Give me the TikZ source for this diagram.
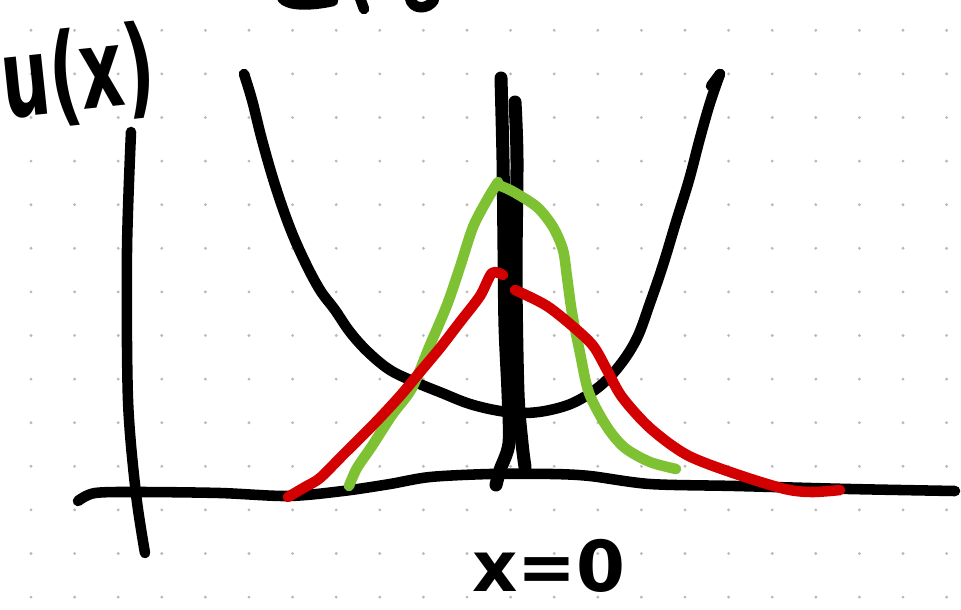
\documentclass[tikz,border=0pt]{standalone}
\usepackage{fontspec}
\setmainfont{DejaVu Sans}
\definecolor{penGreen}{RGB}{126,194,51}
\definecolor{penRed}{RGB}{210,0,0}
\definecolor{dotGray}{RGB}{185,185,185}
\begin{document}
\begin{tikzpicture}[x=0.01cm,y=-0.01cm,
  pen/.style={line width=3pt,line cap=round,line join=round},
  thickpen/.style={line width=3.7pt,line cap=round,line join=round},
  hand/.style={font=\fontsize{24}{26}\selectfont\bfseries,inner sep=0pt}]
\useasboundingbox (0,0) rectangle (961,609);
\fill[white] (0,0) rectangle (961,609);
% dot grid
\foreach \i in {0,...,21}
  \foreach \j in {0,...,13}
    \fill[dotGray] (31+\i*43.6,30.3+\j*43.6) circle[radius=0.45pt];
% partial text at the top edge
\draw[pen] (282,-2) .. controls (288,6) and (310,6) .. (333,1);
\draw[pen] (360,-2) -- (364,9);
\draw[pen] (410,-2) .. controls (412,10) and (428,10) .. (434,0);
% labels
\node[hand,rotate=6] (ulab) at (78,76) {\scalebox{0.8}[1.3]{u(x)}};
\node[hand,font=\fontsize{20}{22}\selectfont\bfseries] (xlab) at (549,566) {x=0};
% axes
\draw[pen] plot[smooth] coordinates {(131,132) (127,250) (128,400) (136,494) (145,553)};
\draw[pen] plot[smooth] coordinates {(78,501) (95,493) (140,492) (220,493) (288,496) (343,491) (390,484) (430,477) (490,474) (552,474) (590,476) (650,484) (736,486) (850,489) (955,491)};
% potential
\draw[pen] plot[smooth,tension=0.6] coordinates {(244,74) (252,100) (262,140) (275,185) (290,228) (305,262) (320,290) (335,310) (350,332) (368,352) (390,370) (415,382) (442,393) (470,404) (500,411) (525,413) (550,410) (575,402) (600,386) (620,365) (637,338) (650,303) (663,265) (676,222) (689,180) (700,138) (710,103) (720,74)};
\draw[pen] (720,74) -- (711,86);
% central delta spike
\draw[thickpen] plot[smooth] coordinates {(501,78) (503,160) (504,250) (505,327) (508,393) (509,443) (500,470) (496,485)};
\draw[thickpen] plot[smooth] coordinates {(515,102) (517,160) (516,277) (518,393) (522,443) (525,467)};
% green wavefunction
\draw[pen,penGreen] plot[smooth] coordinates {(349,486) (357,468) (372,446) (392,415) (412,388) (430,345) (447,305) (460,267) (473,227) (487,200) (498,182)};
\draw[pen,penGreen] plot[smooth] coordinates {(498,185) (512,191) (537,207) (553,227) (563,250) (567,277) (572,313) (580,353) (589,393) (607,427) (625,448) (650,462) (676,469)};
% red wavefunction
\draw[pen,penRed] plot[smooth] coordinates {(288,497) (305,487) (320,478) (343,455) (374,424) (400,396) (420,372) (440,348) (460,322) (480,296) (492,273) (503,275)};
\draw[pen,penRed] plot[smooth] coordinates {(515,290) (547,306) (577,330) (594,347) (607,370) (622,397) (650,428) (687,455) (736,474) (785,489) (812,492) (840,490)};
\end{tikzpicture}
\end{document}
